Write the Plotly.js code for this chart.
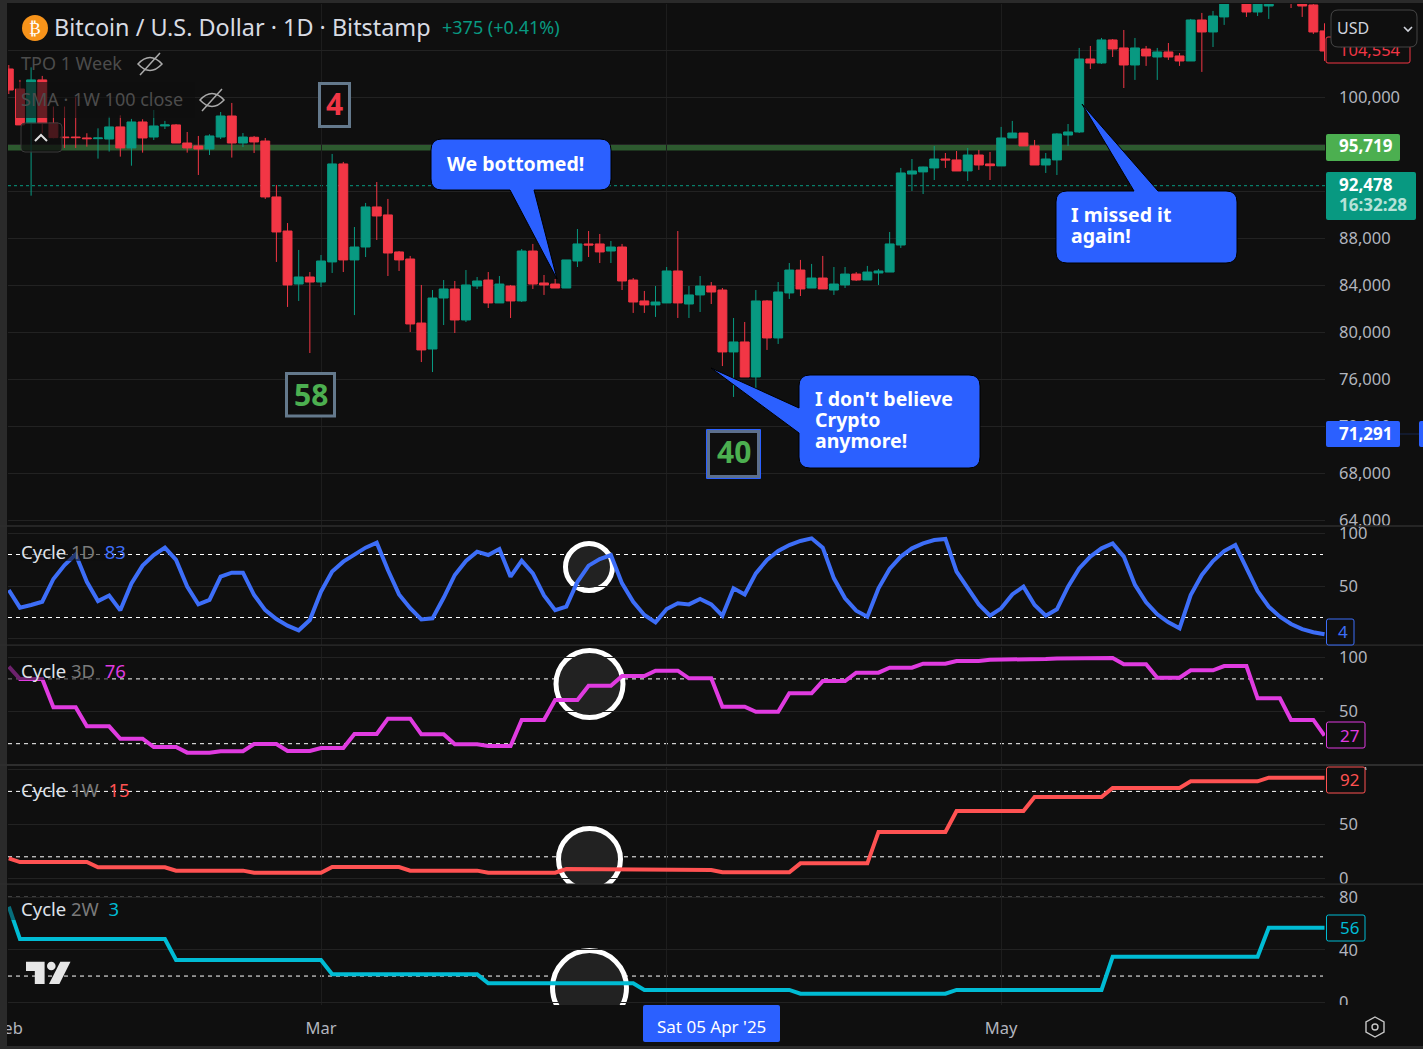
<!DOCTYPE html>
<html><head><meta charset="utf-8">
<script src="https://cdn.plot.ly/plotly-3.0.1.min.js"></script>
<style>html,body{margin:0;padding:0;background:#0f0f0f;overflow:hidden}</style>
</head><body><div id="chart" style="width:1423px;height:1049px"></div>
<script>
const dates=['2025-02-01','2025-02-02','2025-02-03','2025-02-04','2025-02-05','2025-02-06','2025-02-07','2025-02-08','2025-02-09','2025-02-10','2025-02-11','2025-02-12','2025-02-13','2025-02-14','2025-02-15','2025-02-16','2025-02-17','2025-02-18','2025-02-19','2025-02-20','2025-02-21','2025-02-22','2025-02-23','2025-02-24','2025-02-25','2025-02-26','2025-02-27','2025-02-28',
'2025-03-01','2025-03-02','2025-03-03','2025-03-04','2025-03-05','2025-03-06','2025-03-07','2025-03-08','2025-03-09','2025-03-10','2025-03-11','2025-03-12','2025-03-13','2025-03-14','2025-03-15','2025-03-16','2025-03-17','2025-03-18','2025-03-19','2025-03-20','2025-03-21','2025-03-22','2025-03-23','2025-03-24','2025-03-25','2025-03-26','2025-03-27','2025-03-28','2025-03-29','2025-03-30','2025-03-31',
'2025-04-01','2025-04-02','2025-04-03','2025-04-04','2025-04-05','2025-04-06','2025-04-07','2025-04-08','2025-04-09','2025-04-10','2025-04-11','2025-04-12','2025-04-13','2025-04-14','2025-04-15','2025-04-16','2025-04-17','2025-04-18','2025-04-19','2025-04-20','2025-04-21','2025-04-22','2025-04-23','2025-04-24','2025-04-25','2025-04-26','2025-04-27','2025-04-28','2025-04-29','2025-04-30',
'2025-05-01','2025-05-02','2025-05-03','2025-05-04','2025-05-05','2025-05-06','2025-05-07','2025-05-08','2025-05-09','2025-05-10','2025-05-11','2025-05-12','2025-05-13','2025-05-14','2025-05-15','2025-05-16','2025-05-17','2025-05-18','2025-05-19','2025-05-20','2025-05-21','2025-05-22','2025-05-23','2025-05-24','2025-05-25','2025-05-26','2025-05-27','2025-05-28','2025-05-29','2025-05-30'];
const open=[102410,100710,97790,101480,97790,96620,96620,96540,96480,96450,97480,95690,97900,96620,97560,97650,96110,95860,95600,96620,98410,96110,96600,96280,91520,88620,84110,84710,
84280,85990,94330,86160,87260,90670,89990,86840,86240,80790,78580,82920,83690,81050,83940,84450,82500,83940,82670,86920,84200,84110,83770,86070,87520,87520,86920,87260,84450,82670,82330,
82500,85220,82410,83180,83940,83600,78330,79180,76200,82670,79520,83350,85300,83770,84620,83600,84030,84960,84450,85050,85130,87430,93470,93650,93990,94750,94670,93730,95090,94330,
94160,96540,96960,95860,94240,94670,96790,97050,103260,102920,104880,104200,102750,104110,103430,103860,103520,103090,106580,105560,106840,109600,111000,107260,107770,108900,109400,108900,107860,105650];
const high=[102750,101480,102550,101820,99210,99210,100000,96940,97360,98350,98470,98160,98130,98920,97990,97730,97050,96710,96850,98750,99520,96960,96710,96540,92540,89300,87010,85130,
86580,95180,94500,88960,91010,92790,91350,86920,86500,84030,83600,84450,84370,85300,84710,85130,84790,84030,87090,87520,84880,84540,86160,88790,88620,88370,87770,87520,84620,83520,83940,
85560,88620,83940,84790,84280,83770,81220,80880,83600,82750,84280,85900,86160,85820,86500,85560,85560,85130,85650,85390,88540,93990,94750,94100,95860,95260,95430,95690,95520,95350,
97480,97990,96960,96370,95260,96940,97730,104200,104370,105050,104960,105730,105050,104370,104200,104620,103770,106670,107180,107350,111000,111900,111900,109500,109300,110400,110700,109300,108900,106300];
const low=[100280,97650,91630,96940,96510,95690,95690,95800,94780,95380,94950,94180,95290,96370,97300,96110,95290,93390,95090,96450,94870,95770,95260,91350,85990,82160,82670,78240,
83860,85050,85130,81470,86410,87860,84790,85220,80030,77470,76620,80620,79940,80880,83690,82070,82500,81220,82580,83690,83180,83770,83770,85560,86410,85900,85900,83600,81650,81650,81310,
82500,81220,81220,81730,82410,77130,74500,76200,74670,78500,79010,82840,83090,83770,83690,83180,83770,84370,84450,84030,85130,87180,92030,91770,92960,93990,93730,92880,93820,92960,
94160,96540,95860,94240,93560,93390,95860,96960,102410,102840,103430,100790,101480,102670,101480,103180,102670,103090,102160,104280,106160,109000,106840,106920,106670,108700,107600,106840,105390,103100];
const close=[100620,97650,101480,97790,96570,96570,96570,96480,96540,97480,95690,97900,96540,97560,97650,96110,95690,95600,96710,98410,96110,96620,96200,91520,88540,84030,84710,84280,
86070,94330,86160,87260,90670,89900,86750,86160,80710,78500,82920,83690,81050,84030,84370,82500,84110,82670,86920,84110,84030,83770,86160,87520,87430,86840,87260,84370,82580,82330,82580,
85220,82500,83180,83940,83430,78330,79180,76200,82670,79520,83430,85300,83690,84620,83690,84110,84960,84450,85130,85220,87520,93560,93730,94070,94750,94670,93730,95090,94240,94180,
96540,96960,95860,94240,94750,96880,97050,103260,102920,104880,104110,102750,104200,103520,103860,103430,103090,106580,105560,106920,109500,111000,107260,108900,108900,109400,108900,107770,105560,103940];
const cycle1D=[46.2,29.4,31.9,35,56.7,70,80,54,35.7,41,26.8,52.5,69.4,79.5,86.5,74.8,49.4,32.5,36.7,58.9,62.7,62.7,41.4,27,18.5,12.2,7.8,17.6,
44.6,63.7,73.2,79.5,86.5,91.2,65.2,42,28.8,18.2,19.2,38.8,60.5,73.8,82.7,79.5,85.2,58.9,74.1,62,41,27,30.3,54,69.4,75.7,79.5,52.5,35,22.4,15.4,
28.1,33.5,32.5,37.6,32.5,21.7,47.8,42,62,74.8,83.3,89,92.9,95.4,86.5,57.3,38.3,26.5,20.8,47.8,66.2,78,85.9,90.6,93.8,94.8,63.7,47.8,32.5,21.7,
28.7,42,49.4,31.9,21.7,27.8,49.4,66.8,78,85.9,90.6,78,51,34.5,23,15.4,9.7,41.4,60.5,73.8,83.3,89,66.8,45.2,30.3,20.8,13.8,9,6,4];
const cycle3D=[91.3,79.9,79.9,79.9,53.7,53.7,53.7,36.1,36.1,36.1,24.6,24.6,24.6,16.9,16.9,16.9,11.7,11.7,11.7,13,13,13,19.7,19.7,19.7,13.2,13.2,13.2,
16,16,16,29,29,29,43.2,43.2,43.2,28.7,28.7,28.7,19.4,19.4,19.4,17.9,17.9,17.9,42,42,42,60.5,60.5,60.5,73.7,73.7,73.7,82.7,82.7,82.7,87.6,
87.6,87.6,80.5,80.5,80.5,54.3,54.3,54.3,49.6,49.6,49.6,66.7,66.7,66.7,78,78,78,85.8,85.8,85.8,90.4,90.4,90.4,94.1,94.1,94.1,96.6,96.6,96.6,97.8,
97.8,97.8,98.4,98.4,98.4,99,99,99,99.3,99.3,99.3,93.5,93.5,93.5,81.1,81.1,81.1,88,88,88,91.9,91.9,91.9,62,62,62,42,42,42,27.4];
const cycle1W=[18.6,15.2,15.2,15.2,15.2,15.2,15.2,15.2,10.4,10.4,10.4,10.4,10.4,10.4,10.4,7.3,7.3,7.3,7.3,7.3,7.3,7.3,5.4,5.4,5.4,5.4,5.4,5.4,
5.4,10.6,10.6,10.6,10.6,10.6,10.6,10.6,7.3,7.3,7.3,7.3,7.3,7.3,7.3,5.4,5.4,5.4,5.4,5.4,5.4,5.4,8.8,8.8,8.8,8.8,8.8,8.8,8.8,7.9,7.9,
7.9,7.9,7.9,7.9,7.9,5.8,5.8,5.8,5.8,5.8,5.8,5.8,14,14,14,14,14,14,14,42.8,42.8,42.8,42.8,42.8,42.8,42.8,62,62,62,62,
62,62,62,74.9,74.9,74.9,74.9,74.9,74.9,74.9,83.1,83.1,83.1,83.1,83.1,83.1,83.1,89.2,89.2,89.2,89.2,89.2,89.2,89.2,92.6,92.6,92.6,92.6,92.6,92.6];
const cycle2W=[72.8,48.2,48.2,48.2,48.2,48.2,48.2,48.2,48.2,48.2,48.2,48.2,48.2,48.2,48.2,32.2,32.2,32.2,32.2,32.2,32.2,32.2,32.2,32.2,32.2,32.2,32.2,32.2,
32.2,21.3,21.3,21.3,21.3,21.3,21.3,21.3,21.3,21.3,21.3,21.3,21.3,21.3,21.3,14.5,14.5,14.5,14.5,14.5,14.5,14.5,14.5,14.5,14.5,14.5,14.5,14.5,14.5,9.4,9.4,
9.4,9.4,9.4,9.4,9.4,9.4,9.4,9.4,9.4,9.4,9.4,9.4,6.6,6.6,6.6,6.6,6.6,6.6,6.6,6.6,6.6,6.6,6.6,6.6,6.6,6.6,9.4,9.4,9.4,9.4,
9.4,9.4,9.4,9.4,9.4,9.4,9.4,9.4,9.4,9.4,34.7,34.7,34.7,34.7,34.7,34.7,34.7,34.7,34.7,34.7,34.7,34.7,34.7,34.7,56.8,56.8,56.8,56.8,56.8,56.8];
const priceTicks=[64000,68000,72000,76000,80000,84000,88000,92000,96000,100000,104000];
const priceLabels=['64,000','68,000','72,000','76,000','80,000','84,000','88,000','','','100,000','<span style="color:#f23645">104,554</span>'];
const monthTicks=['2025-02-01','2025-03-01','2025-04-01','2025-05-01'];
const monthLabels=['Feb','Mar','','May'];
const bandLevel=95719, lastPrice=92478;

const FONT='"Noto Sans", sans-serif';
const BG='#0f0f0f',GREEN='#089981',RED='#f23645',BLUE='#2b60ff',C1='#3d6ef8',C3='#e03be0',CW='#ff5252',C2='#00bcd4',TXT='#b2b5be';
const L=8,R=1325,T=4,B=1005;
const X=p=>(p-L)/(R-L), Y=p=>1-(p-T)/(B-T);
const MAR1=Date.UTC(2025,2,1), PXD=11.15;
const dAt=p=>new Date(MAR1+(p-321)/PXD*864e5).toISOString().slice(0,19).replace('T',' ');
const dom=(a,b)=>[Y(b),Y(a)];
const yv={y2:p=>(638.5-p)/1.05, y3:p=>(765.3-p)/1.08, y4:p=>(878.6-p)/1.09, y5:p=>(1002.3-p)/1.3125};
const pt=(x,y)=>X(x)+','+Y(y);
function rrp(x0,y0,x1,y1,r){return 'M'+pt(x0+r,y0)+'L'+pt(x1-r,y0)+'Q'+pt(x1,y0)+' '+pt(x1,y0+r)+'L'+pt(x1,y1-r)+'Q'+pt(x1,y1)+' '+pt(x1-r,y1)+'L'+pt(x0+r,y1)+'Q'+pt(x0,y1)+' '+pt(x0,y1-r)+'L'+pt(x0,y0+r)+'Q'+pt(x0,y0)+' '+pt(x0+r,y0)+'Z';}
function poly(a,close){return 'M'+a.map(p=>pt(p[0],p[1])).join('L')+(close?'Z':'');}
function callout(x0,y0,x1,y1,r,e,a,b,tx,ty){
 let s='M'+pt(x0+r,y0);
 if(e=='t')s+='L'+pt(a,y0)+'L'+pt(tx,ty)+'L'+pt(b,y0);
 s+='L'+pt(x1-r,y0)+'Q'+pt(x1,y0)+' '+pt(x1,y0+r)+'L'+pt(x1,y1-r)+'Q'+pt(x1,y1)+' '+pt(x1-r,y1);
 if(e=='b')s+='L'+pt(b,y1)+'L'+pt(tx,ty)+'L'+pt(a,y1);
 s+='L'+pt(x0+r,y1)+'Q'+pt(x0,y1)+' '+pt(x0,y1-r);
 if(e=='l')s+='L'+pt(x0,b)+'L'+pt(tx,ty)+'L'+pt(x0,a);
 s+='L'+pt(x0,y0+r)+'Q'+pt(x0,y0)+' '+pt(x0+r,y0)+'Z';return s;}
const pth=(path,fill,lc,lw,layer)=>({type:'path',xref:'paper',yref:'paper',path,fillcolor:fill||'rgba(0,0,0,0)',line:{color:lc||'rgba(0,0,0,0)',width:lw||0},layer:layer||'above'});
const rect=(x0,y0,x1,y1,fill)=>({type:'rect',xref:'paper',yref:'paper',x0:X(x0),x1:X(x1),y0:Y(y1),y1:Y(y0),fillcolor:fill,line:{width:0},layer:'above'});
const circ=(x0,x1,y0,y1,yr)=>({type:'circle',xref:'x',yref:yr,x0:dAt(x0),x1:dAt(x1),y0:yv[yr](y1),y1:yv[yr](y0),fillcolor:'#222222',line:{color:'#ffffff',width:5},layer:'below'});
const dash=(yr,v)=>({type:'line',xref:'paper',yref:yr,x0:0,x1:X(1323),y0:v,y1:v,line:{color:'#ffffff',width:1,dash:'4px,4px'},layer:'below'});
function eye(cx,cy){return pth(poly([[cx+10,cy-11],[cx-10,cy+11]])+'M'+pt(cx-12,cy)+'Q'+pt(cx,cy-13)+' '+pt(cx+12,cy)+'Q'+pt(cx,cy+13)+' '+pt(cx-12,cy)+'Z',null,'#aaaaaa',1.5);}
function tag(x0,y0,x1,y1,c){return pth(rrp(x0,y0,x1,y1,2),BG,c,1);}

const shapes=[
 {type:'line',xref:'paper',yref:'y',x0:0,x1:1,y0:bandLevel,y1:bandLevel,line:{color:'#2d5a2f',width:6},layer:'below'},
 {type:'line',xref:'paper',yref:'y',x0:0,x1:1,y0:lastPrice,y1:lastPrice,line:{color:GREEN,width:1,dash:'dot'},layer:'below'},
 circ(565.5,612.5,543.5,590.5,'y2'),circ(556,623,650.5,717.5,'y3'),circ(558.5,620.5,828.5,890,'y4'),circ(552.5,626.5,950.5,1025,'y5'),
 dash('y2',80),dash('y2',20),dash('y3',80),dash('y3',20),dash('y4',80),dash('y4',20),dash('y5',80),dash('y5',20),
 // legend veils
 rect(16,82,195,118,'rgba(15,15,15,0.62)'),
 pth(rrp(21,123,62,152,4),'rgba(15,15,15,0.75)','#3a3a3a',1),
 pth(poly([[35,141],[41,135],[47,141]]),null,'#e0e0e0',2),
 rect(21,543,108,561,'rgba(15,15,15,0.55)'),
 rect(8,660,108,680,'rgba(15,15,15,0.55)'),
 rect(8,900,16,920,'rgba(15,15,15,0.45)'),
 eye(150,64),eye(212,100),
 // number boxes
 {type:'rect',xref:'paper',yref:'paper',x0:X(319.5),x1:X(349.5),y0:Y(126.5),y1:Y(83.5),fillcolor:BG,line:{color:'#64798c',width:3},layer:'above'},
 {type:'rect',xref:'paper',yref:'paper',x0:X(286.5),x1:X(334.5),y0:Y(416),y1:Y(373.5),fillcolor:BG,line:{color:'#64798c',width:3},layer:'above'},
 {type:'rect',xref:'paper',yref:'paper',x0:X(706.5),x1:X(760.5),y0:Y(478.5),y1:Y(429.5),fillcolor:BG,line:{color:BLUE,width:1},layer:'above'},
 {type:'rect',xref:'paper',yref:'paper',x0:X(708.5),x1:X(758.5),y0:Y(476.5),y1:Y(431.5),fillcolor:BG,line:{color:'#5c6f8c',width:3},layer:'above'},
 // callouts
 pth(callout(431,139,611,190,11,'b',510,534,557,279),BLUE,'#000000',1),
 pth(callout(799,375,980,468,11,'l',408,433,711,368),BLUE,'#000000',1),
 pth(callout(1056,191,1237,263,11,'t',1134,1158,1082,104),BLUE,'#000000',1),
 // logo
 {type:'circle',xref:'paper',yref:'paper',x0:X(22),x1:X(48),y0:Y(41),y1:Y(15),fillcolor:'#f7931a',line:{width:0},layer:'above'},
 pth(poly([[26,961.7],[44.6,961.7],[44.6,984],[34.8,984],[34.8,971],[26,971]],true),'#e6e6e6'),
 {type:'circle',xref:'paper',yref:'paper',x0:X(47),x1:X(55.6),y0:Y(970.3),y1:Y(961.7),fillcolor:'#e6e6e6',line:{width:0},layer:'above'},
 pth(poly([[60.3,961.7],[70.5,961.7],[59.4,984],[49,984]],true),'#e6e6e6'),
 // frame
 rect(0,0,1423,3,'#2a2a2a'),rect(0,0,7,1049,'#2a2a2a'),rect(0,1046,1423,1049,'#2a2a2a'),
 rect(1326,1005,1423,1046,BG),
 rect(0,525.3,1423,526.8,'#2e2e2e'),rect(0,644.6,1423,645.8,'#2e2e2e'),rect(0,764,1423,766,'#2e2e2e'),rect(0,883.6,1423,884.8,'#2e2e2e'),
 // price tags
 pth(rrp(1326,37,1410,63,2),null,RED,1),
 pth(rrp(1331,10,1417,47,7),BG,'#454545',1),
 pth(poly([[1404,27],[1408,31],[1412,27]]),null,'#d1d4dc',1.6),
 pth(rrp(1326,134,1400,161,2),'#4caf50'),
 pth(rrp(1326,172,1416,220,2),GREEN),
 pth(rrp(1326,421,1400,447,2),BLUE),
 rect(1400,433.5,1419,434.5,'#16264f'),
 pth(rrp(1419,421,1430,447,2),BLUE),
 tag(1326.5,619,1354,645,C1),
 tag(1326.5,722,1365,748,C3),
 tag(1326.5,767,1365,793,CW),
 tag(1326.5,915,1365,941,C2),
 pth(poly([[1365.5,767],[1366,770]]),null,'#b2b5be',1.2),
 pth(rrp(643,1005,780,1042,2),BLUE),
 pth(poly([[1375,1017],[1384,1022],[1384,1032],[1375,1037],[1366,1032],[1366,1022]],true)+'M'+pt(1372,1027)+'Q'+pt(1372,1024)+' '+pt(1375,1024)+'Q'+pt(1378,1024)+' '+pt(1378,1027)+'Q'+pt(1378,1030)+' '+pt(1375,1030)+'Q'+pt(1372,1030)+' '+pt(1372,1027),null,'#c8c8c8',1.4)
];
const tx=(text,x,y,size,color,o)=>{const left=!(o&&o.xanchor==='center');return Object.assign({xref:'paper',yref:'paper',x:X(left?x-2:x),y:Y(y-1),text,showarrow:false,xanchor:'left',yanchor:'middle',font:{family:FONT,size,color}},o||{});};
const C={xanchor:'center'};
const gs=s=>'<span style="color:#7a7a7a">'+s+'</span>';
const annotations=[
 tx('Bitcoin / U.S. Dollar · 1D · Bitstamp',54,28,23.4,'#d8dbe3'),
 tx('+375 (+0.41%)',442,28,18,GREEN),
 tx('₿',35,29,18,'#ffffff',{xanchor:'center',font:{family:'"DejaVu Sans"',size:17,color:'#ffffff'}}),
 tx('TPO 1 Week',21,64,18,'#4c4c4c'),
 tx('SMA · 1W 100 close',21,100,18,'#4c4c4c'),
 tx('<b>4</b>',334.5,105,30,RED,C),
 tx('<b>58</b>',310.5,395,30,'#4caf50',C),
 tx('<b>40</b>',733.5,453,30,'#4caf50',C),
 tx('<b>We bottomed!</b>',447,164,19.5,'#ffffff'),
 tx("<b>I don't believe</b>",815,399,19.5,'#ffffff'),
 tx('<b>Crypto</b>',815,420,19.5,'#ffffff'),
 tx('<b>anymore!</b>',815,441,19.5,'#ffffff'),
 tx('<b>I missed it</b>',1071,215,19.5,'#ffffff'),
 tx('<b>again!</b>',1071,236,19.5,'#ffffff'),
 tx('Cycle '+gs('1D')+'  <span style="color:'+C1+'">83</span>',21,552,18.5,'#dfe2ea'),
 tx('Cycle '+gs('3D')+'  <span style="color:'+C3+'">76</span>',21,671,18.5,'#dfe2ea'),
 tx('Cycle '+gs('1W')+'  <span style="color:'+CW+'">15</span>',21,790,18.5,'#dfe2ea'),
 tx('Cycle '+gs('2W')+'  <span style="color:'+C2+'">3</span>',21,909,18.5,'#dfe2ea'),
 tx('USD',1337,29,16,'#d1d4dc'),
 tx('<b>95,719</b>',1339,147,17,'#ffffff'),
 tx('<b>92,478</b>',1339,185,17,'#ffffff'),
 tx('<b>16:32:28</b>',1339,206,17,'#b5e2d8'),
 tx('<b>71,291</b>',1339,434,17,'#ffffff'),
 tx('4',1343,632,17,C1,C),
 tx('27',1349,736,17,C3,C),
 tx('92',1349,780,17,CW,C),
 tx('56',1349,928,17,C2,C),
 tx("Sat 05 Apr '25",711.5,1027,17,'#ffffff',C)
];
const baseY={type:'linear',side:'right',anchor:'x',showline:false,zeroline:false,ticks:'',ticklen:0,gridcolor:'#222222',gridwidth:1,tickfont:{family:FONT,size:16.5,color:TXT},ticklabelstandoff:13,fixedrange:true,tickmode:'array',automargin:false};
const line=(y,yaxis,color)=>({type:'scatter',mode:'lines',x:dates,y,yaxis,line:{color,width:4,shape:'linear'},hoverinfo:'skip',showlegend:false});
const data=[
 {type:'candlestick',x:dates,open,high,low,close,yaxis:'y',increasing:{line:{color:GREEN,width:1},fillcolor:GREEN},decreasing:{line:{color:RED,width:1},fillcolor:RED},whiskerwidth:0,hoverinfo:'skip',showlegend:false},
 line(cycle1D,'y2',C1),line(cycle3D,'y3',C3),line(cycle1W,'y4',CW),line(cycle2W,'y5',C2)
];
const layout={
 width:1423,height:1049,margin:{l:L,r:1423-R,t:T,b:1049-B,pad:0},paper_bgcolor:BG,plot_bgcolor:BG,showlegend:false,boxgap:0.2,boxgroupgap:0,dragmode:false,
 xaxis:{type:'date',anchor:'y5',domain:[0,1],range:[dAt(L),dAt(R)],rangeslider:{visible:false},tickmode:'array',tickvals:monthTicks,ticktext:monthLabels,showgrid:true,gridcolor:'#1d1d1d',gridwidth:1,zeroline:false,showline:false,ticks:'',ticklen:0,ticklabelstandoff:11,ticklabeloverflow:'allow',tickfont:{family:FONT,size:16.5,color:TXT},fixedrange:true},
 yaxis:Object.assign({},baseY,{domain:dom(T,525),range:[63603,107940],tickvals:priceTicks,ticktext:priceLabels}),
 yaxis2:Object.assign({},baseY,{domain:dom(527,645),range:[yv.y2(645),yv.y2(527)],tickvals:[0,50,100],ticktext:['','50','100']}),
 yaxis3:Object.assign({},baseY,{domain:dom(647,765),range:[yv.y3(765),yv.y3(647)],tickvals:[0,50,100],ticktext:['','50','100']}),
 yaxis4:Object.assign({},baseY,{domain:dom(767,884),range:[yv.y4(884),yv.y4(767)],tickvals:[0,50,100],ticktext:['0','50','']}),
 yaxis5:Object.assign({},baseY,{domain:dom(886,1005),range:[yv.y5(1005),yv.y5(886)],tickvals:[0,40,80],ticktext:['0','40','80']}),
 shapes,annotations
};
Plotly.newPlot('chart',data,layout,{displayModeBar:false,staticPlot:true,responsive:false});
</script></body></html>
